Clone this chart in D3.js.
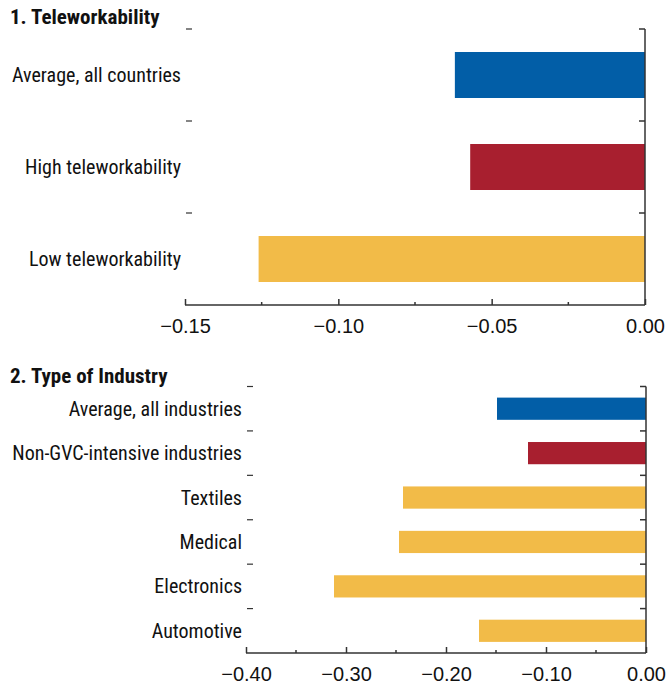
<!DOCTYPE html>
<html>
<head>
<meta charset="utf-8">
<script src="https://cdn.jsdelivr.net/npm/d3@7"></script>
<style>
  body { margin: 0; background: #fff; }
  svg text { font-family: "Liberation Sans Narrow", "Arial Narrow", "Roboto Condensed", sans-serif; fill: #111; }
</style>
</head>
<body>
<div id="chart"></div>
<script>
// Panel 1: Teleworkability
let teleCategories = ['Average, all countries', 'High teleworkability', 'Low teleworkability'];
let teleValues = [-0.062, -0.057, -0.126];
let teleTicks = [-0.15, -0.10, -0.05, 0.00];
let teleMinor = [-0.125, -0.075, -0.025];

// Panel 2: Type of Industry
let industryCategories = ['Average, all industries', 'Non-GVC-intensive industries', 'Textiles', 'Medical', 'Electronics', 'Automotive'];
let industryValues = [-0.149, -0.118, -0.243, -0.247, -0.312, -0.167];
let industryTicks = [-0.40, -0.30, -0.20, -0.10, 0.00];
let industryMinor = [-0.35, -0.25, -0.15, -0.05];

let barColors = ['#025ea7', '#a81f2f', '#f2bb48', '#f2bb48', '#f2bb48', '#f2bb48'];
let axisColor = '#333';

let svg = d3.select('#chart')
    .append('svg')
    .attr('width', 666)
    .attr('height', 684);

/**
 * Draw one horizontal bar panel
 */
function drawPanel(opts) 
{
    let g = svg.append('g');

    // Title
    g.append('text')
        .attr('x', 10)
        .attr('y', opts.titleY)
        .attr('font-size', '21px')
        .attr('font-weight', 'bold')
        .text(opts.title);

    let x = d3.scaleLinear()
        .domain([opts.ticks[0], 0])
        .range([opts.left, opts.right]);

    let y = d3.scaleBand()
        .domain(opts.categories)
        .range([opts.top, opts.bottom])
        .paddingInner(0.5)
        .paddingOuter(0.25);

    // Bars
    g.selectAll('.bar')
        .data(opts.values)
        .enter()
        .append('rect')
        .attr('class', 'bar')
        .attr('x', d => x(d))
        .attr('y', (d, i) => y(opts.categories[i]))
        .attr('width', d => x(0) - x(d))
        .attr('height', y.bandwidth())
        .attr('fill', (d, i) => barColors[i]);

    // Category labels
    g.selectAll('.cat-label')
        .data(opts.categories)
        .enter()
        .append('text')
        .attr('class', 'cat-label')
        .attr('x', opts.left - 4)
        .attr('y', d => y(d) + y.bandwidth() / 2)
        .attr('dy', '0.35em')
        .attr('text-anchor', 'end')
        .attr('font-size', '20px')
        .text(d => d);

    // Category boundaries
    let step = y.step();
    let bounds = opts.categories.map((d, i) => opts.top + i * step);

    // Right (zero) axis with ticks pointing left
    g.append('line')
        .attr('x1', x(0)).attr('x2', x(0))
        .attr('y1', opts.top).attr('y2', opts.bottom)
        .attr('stroke', axisColor).attr('stroke-width', 1.5);

    g.selectAll('.ytick-r')
        .data(bounds)
        .enter()
        .append('line')
        .attr('x1', x(0) - 6).attr('x2', x(0))
        .attr('y1', d => d).attr('y2', d => d)
        .attr('stroke', axisColor).attr('stroke-width', 1.5);

    // Left dashes
    g.selectAll('.ytick-l')
        .data(bounds)
        .enter()
        .append('line')
        .attr('x1', opts.left + 1).attr('x2', opts.left + 7)
        .attr('y1', d => d).attr('y2', d => d)
        .attr('stroke', axisColor).attr('stroke-width', 1.2);

    // X axis
    let xAxis = g.append('g')
        .attr('transform', 'translate(0,' + opts.bottom + ')')
        .call(d3.axisBottom(x)
            .tickValues(opts.ticks)
            .tickSize(-6)
            .tickPadding(14)
            .tickFormat(d3.format('.2f')));

    xAxis.select('.domain').remove();
    xAxis.selectAll('.tick line')
        .attr('stroke', axisColor).attr('stroke-width', 1.5);
    xAxis.selectAll('.tick text')
        .attr('font-size', '20px')
        .attr('fill', '#111')
        .style('font-family', '"Liberation Sans Narrow", "Arial Narrow", sans-serif');

    g.append('line')
        .attr('x1', x(opts.ticks[0])).attr('x2', x(0))
        .attr('y1', opts.bottom).attr('y2', opts.bottom)
        .attr('stroke', axisColor).attr('stroke-width', 1.5);

    g.selectAll('.xminor')
        .data(opts.minor)
        .enter()
        .append('line')
        .attr('x1', d => x(d)).attr('x2', d => x(d))
        .attr('y1', opts.bottom - 3).attr('y2', opts.bottom)
        .attr('stroke', axisColor).attr('stroke-width', 1.5);
}

drawPanel({
    title: '1. Teleworkability',
    titleY: 24,
    categories: teleCategories,
    values: teleValues,
    ticks: teleTicks,
    minor: teleMinor,
    left: 185,
    right: 645,
    top: 29,
    bottom: 305
});

drawPanel({
    title: '2. Type of Industry',
    titleY: 383,
    categories: industryCategories,
    values: industryValues,
    ticks: industryTicks,
    minor: industryMinor,
    left: 246,
    right: 646,
    top: 386.5,
    bottom: 653
});
</script>
</body>
</html>
